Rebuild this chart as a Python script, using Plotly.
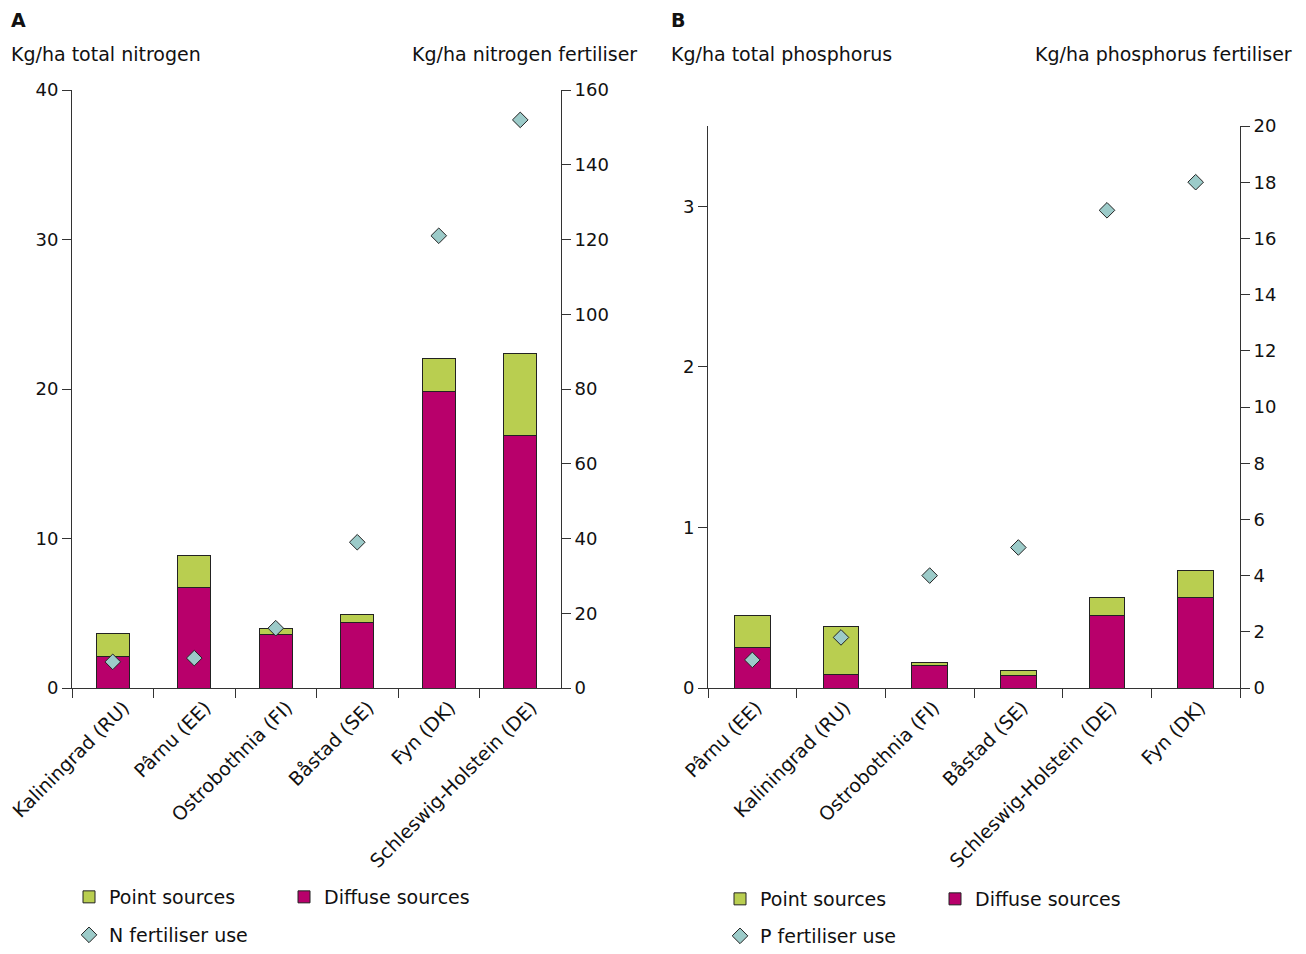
import plotly.graph_objects as go

# Panel A: nitrogen
cats_a = ["Kaliningrad (RU)", "Pârnu (EE)", "Ostrobothnia (FI)", "Båstad (SE)", "Fyn (DK)", "Schleswig-Holstein (DE)"]
diffuse_a = [2.1, 6.7, 3.55, 4.4, 19.8, 16.9]
point_a = [1.55, 2.15, 0.45, 0.5, 2.25, 5.45]
fert_a = [7.0, 8.0, 16.0, 39.0, 121.0, 152.0]

# Panel B: phosphorus
cats_b = ["Pârnu (EE)", "Kaliningrad (RU)", "Ostrobothnia (FI)", "Båstad (SE)", "Schleswig-Holstein (DE)", "Fyn (DK)"]
diffuse_b = [0.255, 0.085, 0.14, 0.077, 0.45, 0.565]
point_b = [0.195, 0.295, 0.02, 0.03, 0.115, 0.165]
fert_b = [1.0, 1.8, 4.0, 5.0, 17.0, 18.0]

C_DIFF = "#B8006B"
C_POINT = "#B9CE50"
C_FERT = "#9CCBC9"
EDGE = "#222222"
FONT = "DejaVu Sans"
FS_TXT = 19
FS_NUM = 18
# page body has an 8px margin, so the figure is shrunk and coordinates offset
OFF = 8
W, H = 1290, 938

def px_x(p):
    return (p - OFF) / W

def px_y(p):
    return (H - (p - OFF)) / H

fig = go.Figure()

# Panel A
fig.add_trace(go.Bar(x=cats_a, y=diffuse_a, name="Diffuse sources", marker=dict(color=C_DIFF, line=dict(color=EDGE, width=1)),
                     width=0.4, xaxis="x", yaxis="y", legend="legend", legendrank=2))
fig.add_trace(go.Bar(x=cats_a, y=point_a, name="Point sources", marker=dict(color=C_POINT, line=dict(color=EDGE, width=1)),
                     width=0.4, xaxis="x", yaxis="y", legend="legend", legendrank=1))
fig.add_trace(go.Scatter(x=cats_a, y=fert_a, name="N fertiliser use", mode="markers",
                         marker=dict(symbol="diamond", size=12, color=C_FERT, line=dict(color=EDGE, width=1)),
                         xaxis="x", yaxis="y2", legend="legend2"))

# Panel B
fig.add_trace(go.Bar(x=cats_b, y=diffuse_b, name="Diffuse sources", marker=dict(color=C_DIFF, line=dict(color=EDGE, width=1)),
                     width=0.4, xaxis="x2", yaxis="y3", legend="legend3", legendrank=2))
fig.add_trace(go.Bar(x=cats_b, y=point_b, name="Point sources", marker=dict(color=C_POINT, line=dict(color=EDGE, width=1)),
                     width=0.4, xaxis="x2", yaxis="y3", legend="legend3", legendrank=1))
fig.add_trace(go.Scatter(x=cats_b, y=fert_b, name="P fertiliser use", mode="markers",
                         marker=dict(symbol="diamond", size=12, color=C_FERT, line=dict(color=EDGE, width=1)),
                         xaxis="x2", yaxis="y4", legend="legend4"))

axis_common = dict(showgrid=False, zeroline=False, showline=True, linecolor="#333333", linewidth=1, automargin=False,
                   ticks="outside", ticklen=9, tickcolor="#333333")
xfont = dict(family=FONT, size=FS_TXT, color="#111")
yfont = dict(family=FONT, size=FS_NUM, color="#111")

legend_common = dict(orientation="h", font=dict(family=FONT, size=FS_TXT, color="#111"), bgcolor="rgba(0,0,0,0)",
                     xanchor="left", yanchor="middle", entrywidth=170, entrywidthmode="pixels", itemwidth=30,
                     traceorder="normal")

fig.update_layout(
    width=W, height=H,
    margin=dict(l=0, r=0, t=0, b=0, autoexpand=False),
    paper_bgcolor="white", plot_bgcolor="white",
    barmode="stack",
    font=dict(family=FONT, size=FS_TXT, color="#111"),
    xaxis=dict(domain=[px_x(72), px_x(561)], anchor="y", tickangle=-45, tickson="boundaries", tickfont=xfont,
               ticklabelshift=11, **axis_common),
    yaxis=dict(domain=[px_y(688), px_y(90)], anchor="x", range=[0, 40], dtick=10, side="left", tickfont=yfont, **axis_common),
    yaxis2=dict(domain=[px_y(688), px_y(90)], anchor="x", overlaying="y", side="right", range=[0, 160], dtick=20, tickfont=yfont, **axis_common),
    xaxis2=dict(domain=[px_x(708), px_x(1240)], anchor="y3", tickangle=-45, tickson="boundaries", tickfont=xfont,
                ticklabelshift=4, **axis_common),
    yaxis3=dict(domain=[px_y(688), px_y(126)], anchor="x2", range=[0, 3.5], dtick=1, side="left", tickfont=yfont, **axis_common),
    yaxis4=dict(domain=[px_y(688), px_y(126)], anchor="x2", overlaying="y3", side="right", range=[0, 20], dtick=2, tickfont=yfont, **axis_common),
    legend=dict(x=px_x(69), y=px_y(897), **legend_common),
    legend2=dict(x=px_x(69), y=px_y(935), **legend_common),
    legend3=dict(x=px_x(720), y=px_y(899), **legend_common),
    legend4=dict(x=px_x(720), y=px_y(936), **legend_common),
    showlegend=True,
)

annos = [
    dict(text="<b>A</b>", x=px_x(9), y=px_y(20), xanchor="left", yanchor="middle"),
    dict(text="Kg/ha total nitrogen", x=px_x(9), y=px_y(54), xanchor="left", yanchor="middle"),
    dict(text="Kg/ha nitrogen fertiliser", x=px_x(639), y=px_y(54), xanchor="right", yanchor="middle"),
    dict(text="<b>B</b>", x=px_x(669), y=px_y(20), xanchor="left", yanchor="middle"),
    dict(text="Kg/ha total phosphorus", x=px_x(669), y=px_y(54), xanchor="left", yanchor="middle"),
    dict(text="Kg/ha phosphorus fertiliser", x=px_x(1294), y=px_y(54), xanchor="right", yanchor="middle"),
]
for a in annos:
    fig.add_annotation(xref="paper", yref="paper", showarrow=False, font=dict(family=FONT, size=FS_TXT, color="#111"), **a)

fig.write_html("out.html")
